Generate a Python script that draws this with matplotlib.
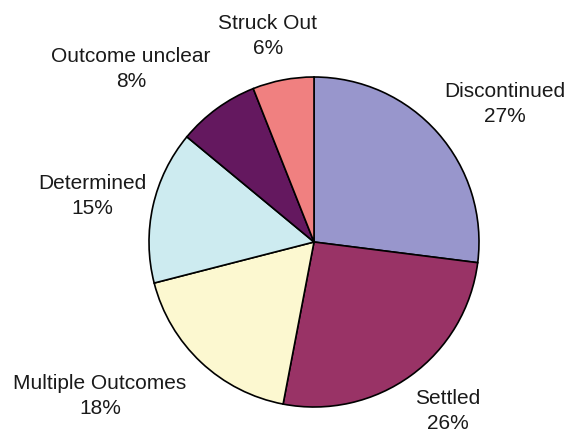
import matplotlib
matplotlib.use("Agg")
import matplotlib.pyplot as plt

categories = ["Discontinued", "Settled", "Multiple Outcomes", "Determined", "Outcome unclear", "Struck Out"]
values = [27, 26, 18, 15, 8, 6]
colors = ["#9896CC", "#993366", "#FCF8D0", "#CDEBF0", "#64185F", "#F08080"]

W, H = 571, 434
fig = plt.figure(figsize=(W / 100, H / 100), dpi=100)
ax = fig.add_axes([0, 0, 1, 1])
ax.set_xlim(0, W)
ax.set_ylim(0, H)
ax.set_aspect("equal")
ax.axis("off")

ax.pie(values, colors=colors, startangle=90, counterclock=False,
       center=(314, H - 242), radius=165,
       wedgeprops=dict(edgecolor="black", linewidth=1.2))
ax.set_xlim(0, W)
ax.set_ylim(0, H)

label_pos = {
    "Discontinued": (505, 104),
    "Settled": (448, 411),
    "Multiple Outcomes": (100, 396),
    "Determined": (92, 196),
    "Outcome unclear": (131, 69),
    "Struck Out": (268, 36),
}
for cat, v in zip(categories, values):
    x, y = label_pos[cat]
    ax.text(x, H - y, f"{cat}\n{v}%", ha="center", va="center",
            fontsize=15, family="Liberation Sans", color="#1a1a1a",
            linespacing=1.38)

fig.savefig("out.png", dpi=100)
